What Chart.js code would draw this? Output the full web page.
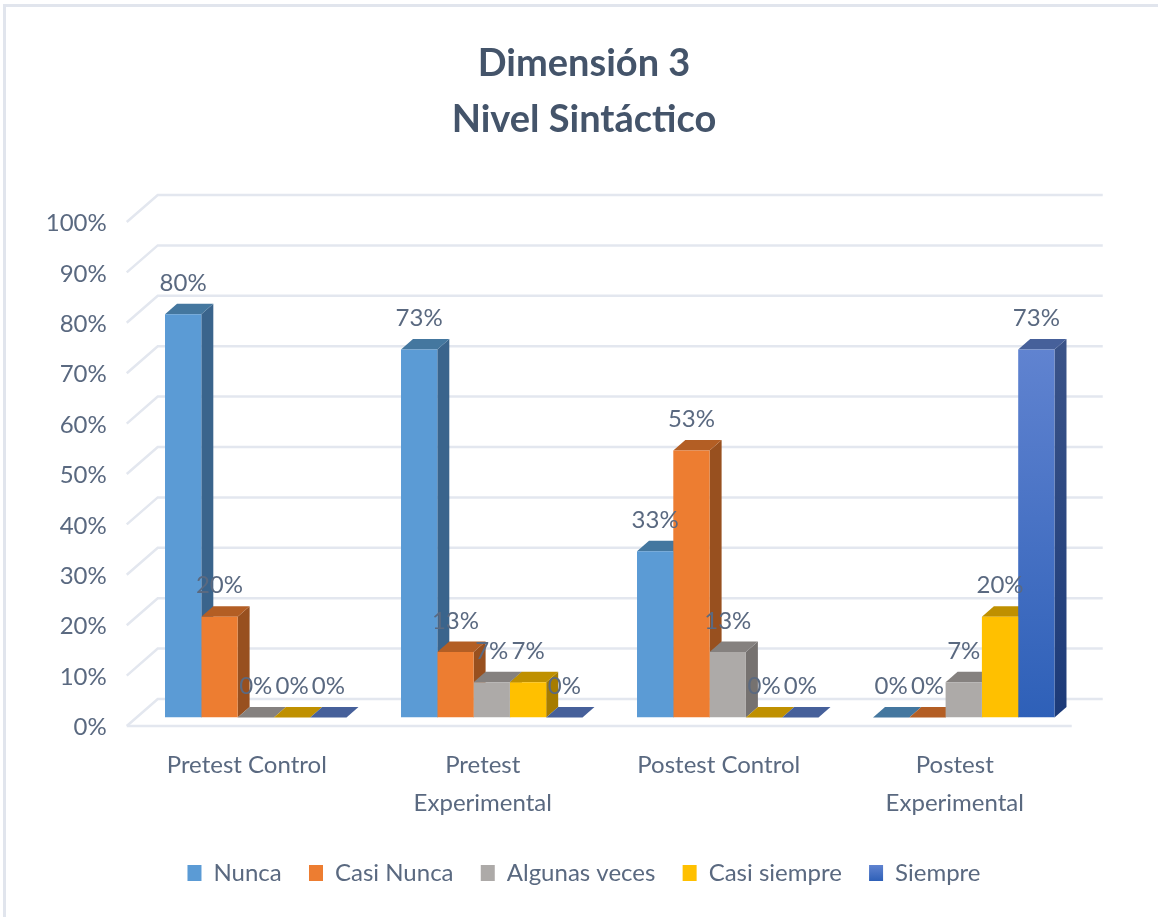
<!DOCTYPE html>
<html>
<head>
<meta charset="utf-8">
<title>Dimensión 3</title>
<script src="https://cdn.jsdelivr.net/npm/chart.js@4"></script>
<style>
  html, body { margin: 0; padding: 0; background: #fff; }
  canvas { display: block; position: relative; filter: blur(0.4px); }
  /* only the top and left edges of the frame are in the picture */
  #frame { position: absolute; left: 3px; top: 4px; right: 0; bottom: 0; height: 913px; border-left: 3px solid #e1e5ed; border-top: 3px solid #e1e5ed; box-sizing: border-box; }
</style>
</head>
<body>
<div id="frame"></div>
<canvas id="chart" width="1158" height="917"></canvas>
<script>
// values
const categories = ['Pretest Control', ['Pretest', 'Experimental'], 'Postest Control', ['Postest', 'Experimental']];
const seriesNames = ['Nunca', 'Casi Nunca', 'Algunas veces', 'Casi siempre', 'Siempre'];
const nunca = [80, 73, 33, 0];
const casiNunca = [20, 13, 53, 0];
const algunasVeces = [0, 7, 13, 7];
const casiSiempre = [0, 7, 0, 20];
const siempre = [0, 0, 0, 73];

const textColor = '#5a6980';
const fontName = 'Lato, Carlito, sans-serif';

// front, side and top face colours of each series
const faces = [
    { front: '#5b9bd5', side: '#3a648c', top: '#44779f' },
    { front: '#ed7d31', side: '#98501f', top: '#b35e24' },
    { front: '#adaaa8', side: '#767270', top: '#85817f' },
    { front: '#ffc000', side: '#a67c00', top: '#bf9000' },
    { front: null, side: null, top: '#46609a' }
];

// the depth of the 3D look
const barDepth = { x: 12, y: 10.5 };
const wall = { left: -11, right: 21, front: 8.5, back: -18.5, inset: 31 };

function siempreFront(ctx) {
    const g = ctx.chart.ctx.createLinearGradient(0, ctx.chart.scales.y.getPixelForValue(73), 0, ctx.chart.scales.y.getPixelForValue(0));
    g.addColorStop(0, '#6083d0');
    g.addColorStop(1, '#2e60b8');
    return g;
}

function quad(c, pts, fill) {
    c.fillStyle = fill;
    c.beginPath();
    pts.forEach((p, i) => i ? c.lineTo(p[0], p[1]) : c.moveTo(p[0], p[1]));
    c.closePath();
    c.fill();
}

// back wall lines and floor, behind the bars
const gridPlugin = {
    id: 'grid3d',
    beforeDatasetsDraw(chart) {
        const c = chart.ctx, y = chart.scales.y, a = chart.chartArea;
        const x0 = a.left + wall.left, x1 = x0 + wall.inset, x2 = a.right + wall.right;
        c.save();
        c.strokeStyle = '#e3e7ef';
        c.lineWidth = 2.5;
        y.ticks.forEach(t => {
            const p = y.getPixelForValue(t.value);
            c.beginPath();
            c.moveTo(x0, p + wall.front);
            c.lineTo(x1, p + wall.back);
            c.lineTo(x2, p + wall.back);
            c.stroke();
        });
        const floor = y.getPixelForValue(0) + wall.front;
        c.beginPath();
        c.moveTo(x0, floor);
        c.lineTo(x2 - wall.inset, floor);
        c.stroke();
        c.restore();
    }
};

// side and top faces, left to right, the library then paints the fronts over them
const facesPlugin = {
    id: 'faces3d',
    beforeDatasetsDraw(chart) {
        const c = chart.ctx, y = chart.scales.y;
        const base = y.getPixelForValue(0);
        const d = barDepth;
        const bars = [];
        chart.data.datasets.forEach((ds, i) => {
            chart.getDatasetMeta(i).data.forEach((el, j) => bars.push({ el, i, value: ds.data[j] }));
        });
        bars.sort((p, q) => p.el.x - q.el.x);
        c.save();
        bars.forEach(({ el, i }) => {
            const l = el.x - el.width / 2, r = el.x + el.width / 2, t = el.y;
            let side = faces[i].side;
            if (!side) {
                side = c.createLinearGradient(0, t, 0, base);
                side.addColorStop(0, '#3a5388');
                side.addColorStop(1, '#1c3a78');
            }
            if (base - t > 0.5) {
                quad(c, [[r, t], [r + d.x, t - d.y], [r + d.x, base - d.y], [r, base]], side);
            }
            quad(c, [[l, t], [l + d.x, t - d.y], [r + d.x, t - d.y], [r, t]], faces[i].top);
        });
        c.restore();
    },
    // percentage labels float above each bar
    afterDatasetsDraw(chart) {
        const c = chart.ctx;
        c.save();
        c.font = '24px ' + fontName;
        c.fillStyle = textColor;
        c.textAlign = 'center';
        c.textBaseline = 'middle';
        chart.data.datasets.forEach((ds, i) => {
            chart.getDatasetMeta(i).data.forEach((el, j) => {
                c.fillText(ds.data[j] + '%', el.x, el.y - 31);
            });
        });
        c.restore();
    }
};

const seriesValues = [nunca, casiNunca, algunasVeces, casiSiempre, siempre];

new Chart(document.getElementById('chart'), {
    type: 'bar',
    data: {
        labels: categories,
        datasets: seriesNames.map((name, i) => ({
            label: name,
            data: seriesValues[i],
            backgroundColor: faces[i].front || siempreFront,
            borderWidth: 0,
            categoryPercentage: 0.769,
            barPercentage: 1
        }))
    },
    options: {
        responsive: false,
        animation: false,
        layout: { padding: { left: 10, right: 0, top: 0, bottom: 22 } },
        plugins: {
            tooltip: { enabled: false },
            title: {
                display: true,
                text: ['Dimensión 3', 'Nivel Sintáctico'],
                color: '#44546a',
                font: { family: fontName, size: 38, weight: 'bold', lineHeight: 1.47 },
                padding: { top: 36, bottom: 65.8 }
            },
            legend: {
                position: 'bottom',
                labels: {
                    boxWidth: 14,
                    boxHeight: 16,
                    padding: 27.25,
                    color: textColor,
                    font: { family: fontName, size: 24 },
                    generateLabels(chart) {
                        return chart.data.datasets.map((ds, i) => {
                            let fill = faces[i].front;
                            if (!fill) {
                                fill = chart.ctx.createLinearGradient(0, 865, 0, 881);
                                fill.addColorStop(0, '#6083d0');
                                fill.addColorStop(1, '#2e60b8');
                            }
                            return { text: ds.label, fillStyle: fill, strokeStyle: fill, lineWidth: 0, datasetIndex: i, fontColor: textColor };
                        });
                    }
                }
            }
        },
        scales: {
            x: {
                grid: { display: false },
                border: { display: false },
                afterFit(s) { s.height = 116.25; },
                ticks: {
                    color: textColor,
                    font: { family: fontName, size: 24, lineHeight: 1.55 },
                    labelOffset: -9,
                    padding: 21.5,
                    maxRotation: 0,
                    autoSkip: false
                }
            },
            y: {
                min: 0,
                max: 100,
                grid: { display: false },
                border: { display: false },
                afterFit(s) { s.width = 127.75; },
                ticks: {
                    stepSize: 10,
                    color: textColor,
                    font: { family: fontName, size: 24 },
                    padding: 23,
                    labelOffset: 10,
                    callback: v => v + '%'
                }
            },
            // empty axis that only keeps the plot clear of the right edge
            yRight: {
                position: 'right',
                grid: { display: false },
                border: { display: false },
                ticks: { display: false },
                afterFit(s) { s.width = 76.25; }
            }
        }
    },
    plugins: [gridPlugin, facesPlugin]
});
</script>
</body>
</html>
